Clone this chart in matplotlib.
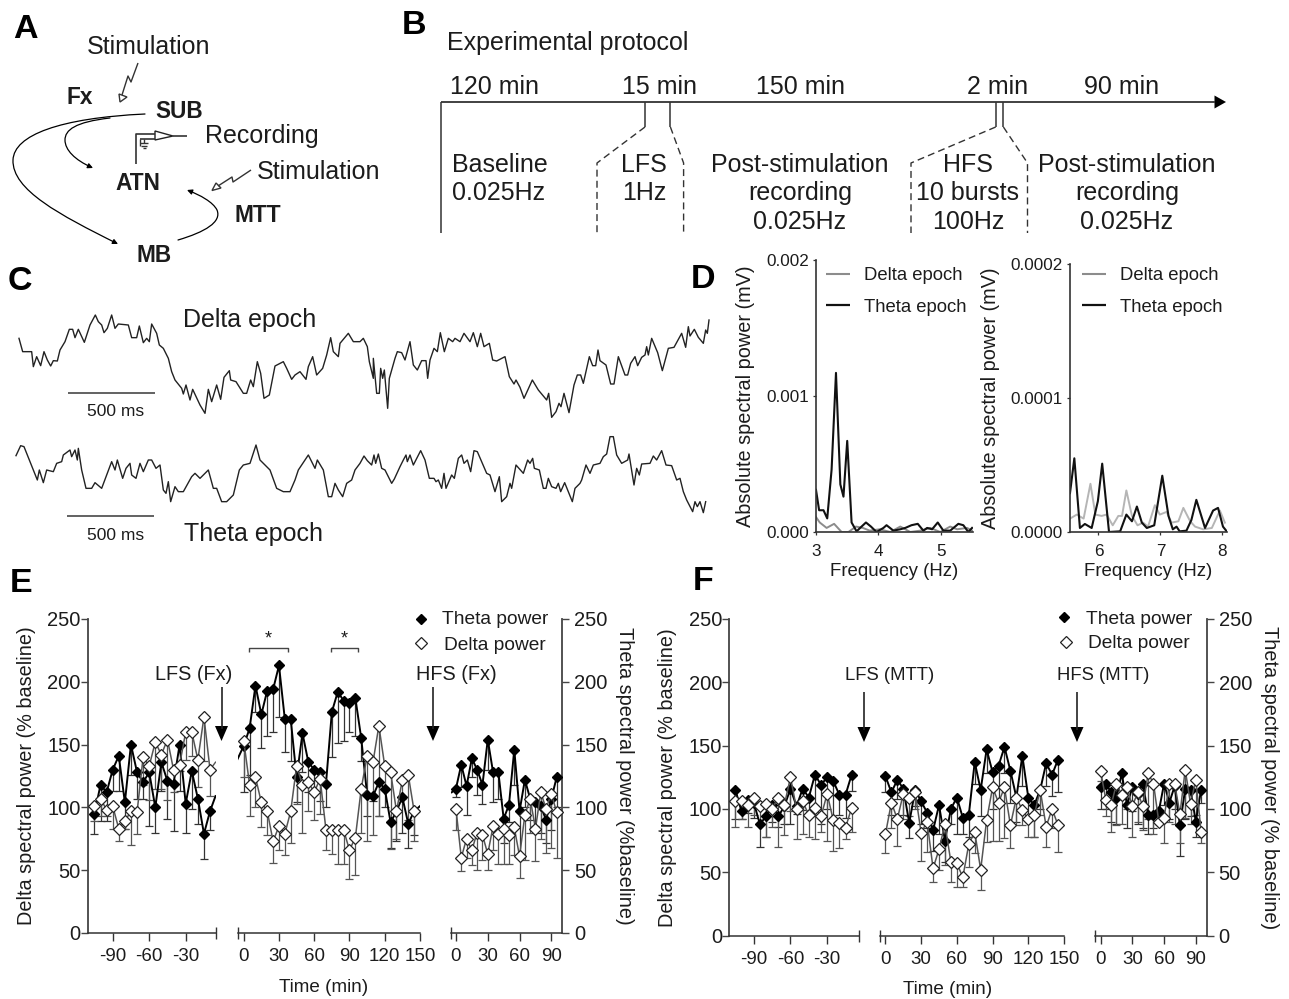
import matplotlib
matplotlib.use("Agg")
import matplotlib.pyplot as plt
from matplotlib.patches import FancyArrowPatch, Polygon
from matplotlib.path import Path

plt.rcParams['font.family'] = ['Liberation Sans', 'DejaVu Sans']
plt.rcParams['axes.unicode_minus'] = False

W, H = 1289, 999
INK = '#1c1c1c'
GREY = '#555555'

# panel E, pre-stimulation baseline
e1_t = [-105, -100, -95, -90, -85, -80, -75, -70, -65, -60, -55, -50, -45, -40, -35, -30, -25, -20, -15, -10]
e1_theta = [95, 118, 112, 130, 141, 104, 150, 128, 120, 128, 100, 136, 121, 119, 150, 103, 129, 107, 79, 97]
e1_theta_low = [79, 89, 89, 113, 113, 83, 126, 107, 107, 85, 80, 113, 91, 81, 113, 80, 99, 87, 59, 82]
e1_delta = [101, 107, 98, 101, 83, 89, 97, 96, 140, 133, 152, 142, 154, 130, 134, 160, 160, 138, 172, 130]
e1_delta_low = [89, 93, 93, 83, 73, 83, 70, 79, 118, 106, 115, 115, 106, 112, 129, 138, 141, 116, 137, 109]

# panel E, after LFS
e2_t = [0, 5, 10, 15, 20, 25, 30, 35, 40, 45, 50, 55, 60, 65, 70, 75, 80, 85, 90, 95, 100, 105, 110, 115, 120, 125, 130, 135, 140, 145]
e2_theta = [149, 163, 197, 174, 193, 194, 213, 170, 170, 124, 159, 136, 130, 128, 119, 176, 192, 185, 183, 187, 155, 110, 109, 120, 115, 88, 97, 108, 87, 97]
e2_theta_low = [112, 126, 176, 147, 157, 160, 172, 144, 137, 104, 128, 112, 113, 105, 100, 140, 151, 153, 160, 157, 137, 93, 105, 93, 100, 68, 73, 80, 68, 78]
e2_delta = [153, 118, 124, 104, 97, 73, 85, 79, 97, 133, 118, 120, 112, 123, 82, 82, 82, 82, 66, 76, 115, 141, 136, 165, 133, 128, 97, 122, 126, 97]
e2_delta_low = [124, 93, 100, 84, 78, 56, 66, 62, 72, 103, 80, 97, 90, 95, 66, 63, 55, 55, 43, 46, 80, 73, 78, 93, 115, 67, 75, 107, 90, 73]

# panel E, after HFS
e3_t = [0, 5, 10, 15, 20, 25, 30, 35, 40, 45, 50, 55, 60, 65, 70, 75, 80, 85, 90, 95]
e3_theta = [115, 134, 117, 139, 130, 118, 154, 128, 128, 91, 102, 146, 97, 122, 107, 104, 101, 90, 107, 124]
e3_theta_low = [108, 116, 94, 124, 110, 103, 130, 104, 107, 72, 88, 118, 60, 100, 90, 85, 80, 72, 82, 100]
e3_delta = [99, 60, 75, 66, 80, 78, 63, 85, 79, 83, 78, 84, 61, 94, 107, 83, 112, 99, 111, 96]
e3_delta_low = [82, 49, 60, 54, 50, 58, 50, 66, 55, 55, 55, 62, 44, 58, 80, 57, 75, 64, 68, 60]

# panel F, pre-stimulation baseline
f1_t = [-105, -100, -95, -90, -85, -80, -75, -70, -65, -60, -55, -50, -45, -40, -35, -30, -25, -20, -15, -10]
f1_theta = [115, 98, 107, 105, 88, 94, 103, 94, 102, 116, 102, 116, 109, 127, 119, 125, 122, 111, 111, 127]
f1_theta_low = [92, 92, 97, 93, 70, 78, 90, 86, 88, 88, 96, 99, 95, 102, 88, 100, 91, 95, 93, 114]
f1_delta = [106, 106, 103, 109, 102, 104, 100, 109, 103, 125, 100, 106, 95, 101, 94, 112, 91, 89, 85, 101]
f1_delta_low = [86, 92, 86, 95, 88, 78, 86, 70, 79, 98, 76, 80, 78, 76, 82, 75, 67, 69, 76, 82]

# panel F, after LFS
f2_t = [0, 5, 10, 15, 20, 25, 30, 35, 40, 45, 50, 55, 60, 65, 70, 75, 80, 85, 90, 95, 100, 105, 110, 115, 120, 125, 130, 135, 140, 145]
f2_theta = [126, 113, 123, 116, 89, 115, 106, 97, 83, 103, 75, 100, 109, 93, 95, 137, 115, 147, 129, 134, 149, 130, 109, 142, 109, 103, 115, 136, 127, 139]
f2_theta_low = [113, 95, 108, 95, 77, 102, 88, 85, 67, 80, 58, 88, 80, 80, 78, 120, 94, 128, 100, 105, 128, 105, 90, 118, 92, 78, 100, 118, 110, 113]
f2_delta = [80, 105, 92, 112, 109, 113, 81, 90, 53, 68, 88, 58, 57, 46, 72, 82, 52, 91, 117, 105, 117, 87, 109, 99, 92, 95, 115, 86, 100, 87]
f2_delta_low = [65, 85, 71, 92, 94, 100, 59, 66, 42, 52, 56, 42, 38, 38, 54, 65, 36, 74, 75, 75, 77, 69, 87, 87, 78, 78, 95, 70, 85, 66]

# panel F, after HFS
f3_t = [0, 5, 10, 15, 20, 25, 30, 35, 40, 45, 50, 55, 60, 65, 70, 75, 80, 85, 90, 95]
f3_theta = [117, 120, 113, 109, 128, 103, 117, 112, 120, 95, 95, 98, 120, 105, 118, 87, 116, 115, 90, 115]
f3_theta_low = [100, 100, 90, 88, 108, 85, 98, 88, 85, 80, 85, 88, 103, 92, 100, 63, 92, 94, 78, 105]
f3_delta = [130, 107, 103, 120, 111, 117, 102, 113, 102, 128, 120, 90, 93, 120, 120, 96, 131, 104, 123, 82]
f3_delta_low = [122, 94, 82, 87, 88, 100, 78, 90, 83, 92, 80, 88, 73, 90, 88, 73, 93, 88, 95, 73]

# panel D spectra
d1_theta_f = [3.0, 3.05, 3.12, 3.18, 3.25, 3.32, 3.39, 3.44, 3.50, 3.57, 3.65, 3.73, 3.80, 3.88, 3.97, 4.08, 4.13, 4.24, 4.35, 4.43, 4.53, 4.63, 4.72, 4.78, 4.86, 4.95, 5.04, 5.15, 5.28, 5.36, 5.44, 5.5]
d1_theta = [.00031, .00016, .00016, .0001, .00046, .00117, .00035, .00026, .00067, .00007, .000005, .00004, .00007, .00004, 0, .00003, .00005, .00001, .00002, .00003, .00005, .00006, .00001, .00003, .00002, .00007, .00001, .00001, .00006, .00005, 0, .00003]
d1_delta_f = [3.0, 3.06, 3.17, 3.29, 3.41, 3.52, 3.64, 3.75, 3.86, 4.02, 4.19, 4.35, 4.51, 4.67, 4.83, 4.99, 5.15, 5.26, 5.42, 5.5]
d1_delta = [.00011, .00007, .00003, .00006, 0, 0, .00004, .00003, .00001, .00002, 0, .00004, 0, .00001, .00003, 0, .00004, .00002, .00003, .00001]
d2_theta_f = [5.54, 5.61, 5.70, 5.78, 5.89, 5.99, 6.06, 6.17, 6.35, 6.45, 6.54, 6.62, 6.70, 6.78, 6.90, 7.03, 7.13, 7.20, 7.26, 7.31, 7.42, 7.50, 7.58, 7.72, 7.85, 7.93, 8.01, 8.07]
d2_theta = [2.9e-5, 5.5e-5, .3e-5, .6e-5, .3e-5, 2.3e-5, 5.1e-5, 0, .05e-5, 1.3e-5, .8e-5, 1.9e-5, .7e-5, .3e-5, .5e-5, 4.2e-5, 1.2e-5, .2e-5, .4e-5, .05e-5, .1e-5, .9e-5, 2.4e-5, .3e-5, 1.6e-5, 1.8e-5, .4e-5, .05e-5]
d2_delta_f = [5.54, 5.65, 5.76, 5.87, 5.95, 6.05, 6.13, 6.23, 6.32, 6.38, 6.45, 6.54, 6.63, 6.72, 6.80, 6.91, 6.99, 7.10, 7.18, 7.29, 7.37, 7.48, 7.56, 7.69, 7.83, 7.96, 8.04]
d2_delta = [1.0e-5, 1.3e-5, 1.0e-5, 3.6e-5, 1.3e-5, 1.2e-5, 1.3e-5, .5e-5, 1.2e-5, 1.2e-5, 3.1e-5, 1.2e-5, .5e-5, .7e-5, .4e-5, 2.0e-5, 1.3e-5, 1.5e-5, .7e-5, .8e-5, 1.8e-5, .8e-5, .4e-5, .2e-5, .3e-5, 1.6e-5, .7e-5]

# panel C traces, (sample, level)
delta_trace = [(57, 115), (68, 155), (95, 155), (100, 200), (110, 170), (122, 197), (132, 155), (142, 180), (152, 198), (160, 182), (172, 183), (180, 150), (195, 125), (208, 88), (218, 88), (225, 113), (235, 88), (253, 127), (270, 75), (286, 45), (295, 65), (305, 75), (312, 98), (322, 85), (335, 45), (345, 85), (355, 72), (385, 75), (395, 113), (410, 113), (418, 78), (430, 128), (440, 115), (448, 125), (455, 72), (470, 100), (478, 135), (490, 145), (505, 175), (515, 215), (525, 240), (545, 265), (550, 282), (558, 255), (570, 300), (578, 268), (600, 315), (615, 340), (625, 268), (635, 305), (650, 255), (662, 298), (672, 232), (688, 212), (692, 240), (708, 245), (730, 280), (740, 280), (752, 240), (760, 260), (772, 185), (782, 220), (792, 295), (808, 285), (825, 198), (850, 185), (860, 205), (875, 238), (885, 225), (900, 215), (918, 238), (925, 200), (938, 170), (950, 225), (968, 205), (980, 165), (992, 113), (1000, 155), (1015, 170), (1020, 130), (1045, 100), (1060, 125), (1080, 125), (1090, 115), (1102, 140), (1108, 185), (1120, 235), (1120, 175), (1130, 280), (1138, 280), (1142, 205), (1148, 235), (1153, 210), (1163, 325), (1168, 235), (1185, 175), (1192, 155), (1205, 158), (1215, 180), (1230, 125), (1240, 195), (1252, 210), (1265, 182), (1278, 182), (1283, 235), (1290, 180), (1302, 145), (1312, 155), (1321, 98), (1333, 155), (1345, 115), (1358, 125), (1365, 115), (1380, 125), (1392, 100), (1410, 125), (1420, 98), (1432, 140), (1442, 100), (1452, 140), (1468, 130), (1478, 180), (1490, 183), (1515, 170), (1528, 230), (1542, 252), (1548, 240), (1560, 262), (1572, 295), (1597, 240), (1615, 270), (1640, 300), (1646, 280), (1655, 352), (1668, 335), (1677, 310), (1683, 320), (1692, 280), (1707, 338), (1722, 255), (1732, 225), (1742, 225), (1750, 250), (1768, 170), (1778, 197), (1787, 197), (1794, 150), (1800, 182), (1818, 195), (1832, 252), (1842, 252), (1855, 170), (1875, 225), (1883, 225), (1892, 190), (1905, 170), (1913, 197), (1925, 172), (1935, 165), (1940, 140), (1945, 165), (1955, 115), (1973, 158), (1987, 212), (2005, 145), (2022, 142), (2045, 100), (2057, 142), (2065, 80), (2070, 108), (2083, 88), (2095, 112), (2110, 130), (2117, 90), (2122, 100), (2127, 60)]
theta_trace = [(48, 467), (62, 437), (72, 440), (95, 497), (100, 510), (112, 540), (118, 510), (130, 548), (140, 510), (160, 515), (170, 490), (185, 485), (190, 465), (210, 450), (215, 470), (225, 450), (232, 480), (235, 445), (245, 510), (258, 565), (275, 565), (285, 548), (305, 565), (320, 525), (335, 485), (345, 510), (352, 480), (368, 535), (378, 505), (390, 490), (395, 525), (408, 535), (420, 490), (430, 515), (445, 480), (455, 480), (468, 505), (480, 495), (490, 570), (498, 580), (505, 545), (512, 605), (525, 560), (535, 575), (550, 575), (575, 530), (585, 520), (600, 535), (625, 510), (640, 565), (650, 565), (665, 605), (680, 605), (700, 585), (718, 510), (730, 495), (750, 490), (768, 435), (780, 480), (790, 490), (810, 510), (830, 565), (850, 575), (870, 575), (885, 540), (895, 510), (925, 465), (945, 505), (952, 480), (970, 510), (985, 590), (995, 590), (1005, 550), (1015, 570), (1028, 590), (1040, 550), (1055, 540), (1065, 510), (1080, 490), (1092, 468), (1102, 482), (1115, 495), (1122, 465), (1127, 490), (1135, 462), (1145, 505), (1155, 510), (1175, 550), (1183, 537), (1200, 500), (1210, 480), (1218, 465), (1222, 485), (1230, 465), (1240, 495), (1262, 452), (1275, 480), (1288, 535), (1302, 535), (1308, 545), (1315, 540), (1325, 565), (1332, 520), (1338, 565), (1355, 525), (1363, 535), (1375, 475), (1385, 465), (1392, 490), (1402, 480), (1412, 515), (1422, 452), (1432, 455), (1460, 520), (1470, 525), (1485, 575), (1498, 530), (1505, 605), (1520, 590), (1530, 550), (1535, 565), (1548, 495), (1570, 520), (1583, 480), (1590, 490), (1598, 475), (1603, 505), (1618, 510), (1630, 565), (1638, 565), (1645, 535), (1655, 560), (1668, 565), (1675, 550), (1682, 575), (1694, 548), (1717, 605), (1725, 565), (1740, 550), (1745, 540), (1758, 495), (1770, 520), (1780, 495), (1800, 490), (1810, 470), (1820, 462), (1830, 410), (1840, 410), (1850, 465), (1865, 490), (1883, 480), (1887, 462), (1902, 555), (1910, 505), (1918, 525), (1925, 492), (1950, 490), (1960, 468), (1970, 480), (1985, 452), (1998, 495), (2015, 497), (2030, 540), (2040, 535), (2050, 575), (2060, 600), (2078, 635), (2085, 605), (2092, 620), (2100, 605), (2110, 638), (2117, 605)]


def px_axes(fig, left, top, right, bottom):
    return fig.add_axes([left / W, 1 - bottom / H, (right - left) / W, (bottom - top) / H])


def draw_segment(ax, t, theta, theta_low, delta, delta_low):
    th_err = [[a - b for a, b in zip(theta, theta_low)], [0] * len(t)]
    de_err = [[a - b for a, b in zip(delta, delta_low)], [0] * len(t)]
    ax.errorbar(t, theta, yerr=th_err, fmt='none', ecolor='#333333', elinewidth=0.9, capsize=3.2, capthick=0.9, zorder=2)
    ax.errorbar(t, delta, yerr=de_err, fmt='none', ecolor=GREY, elinewidth=0.9, capsize=3.2, capthick=0.9, zorder=3)
    ax.plot(t, theta, color='black', lw=1.4, marker='D', ms=4.8, mfc='black', mec='black', zorder=4, clip_on=False)
    ax.plot(t, delta, color=GREY, lw=1.1, marker='D', ms=5.8, mfc='white', mec='#222222', mew=0.9, zorder=5, clip_on=False)


def style_segment(ax, xlim, ticks, left=False, right=False):
    ax.set_xlim(xlim)
    ax.set_ylim(0, 250)
    ax.patch.set_alpha(0)
    for side in ['top', 'left', 'right']:
        ax.spines[side].set_visible(False)
    ax.spines['bottom'].set_color('#333333')
    ax.spines['bottom'].set_linewidth(1.1)
    ax.set_xticks(ticks)
    ax.tick_params(axis='x', length=5.5, width=1, color='#333333', labelsize=13.5, labelcolor=INK, pad=5.5)
    ends = []
    if not left:
        ends.append(xlim[0])
    if not right:
        ends.append(xlim[1])
    ax.set_xticks(ends, minor=True)
    ax.tick_params(axis='x', which='minor', direction='inout', length=9, width=1, color='#333333')
    if left or right:
        side = 'left' if left else 'right'
        ax.spines[side].set_visible(True)
        ax.spines[side].set_color('#444444')
        ax.spines[side].set_linewidth(1.3)
        ax.set_yticks([0, 50, 100, 150, 200, 250])
        ax.tick_params(axis='y', length=4.8, width=1, color='#444444', labelsize=14.5, labelcolor=INK,
                       pad=0.5 if left else 3.8, left=left, right=right, labelleft=left, labelright=right)
    else:
        ax.set_yticks([])


fig = plt.figure(figsize=(W / 100, H / 100), dpi=100)

# panel E axes
ax_e1 = px_axes(fig, 88, 619, 216, 933)
ax_e2 = px_axes(fig, 237.5, 619, 420, 933)
ax_e3 = px_axes(fig, 451.4, 619, 562.4, 933)
draw_segment(ax_e1, e1_t, e1_theta, e1_theta_low, e1_delta, e1_delta_low)
draw_segment(ax_e2, e2_t, e2_theta, e2_theta_low, e2_delta, e2_delta_low)
draw_segment(ax_e3, e3_t, e3_theta, e3_theta_low, e3_delta, e3_delta_low)
ax_e1.plot([-10, -5.5], [97, 109], color='black', lw=1.4, zorder=4)
ax_e1.plot([-10, -5.5], [130, 136], color=GREY, lw=1.0, zorder=3)
ax_e2.plot([-5.5, 0], [138, 149], color='black', lw=1.4, zorder=4)
ax_e2.plot([145, 150], [97, 101], color='black', lw=1.4, zorder=4)
ax_e3.plot([-4, 0], [112, 115], color='black', lw=1.4, zorder=4)
style_segment(ax_e1, (-110.3, -5.1), [-90, -60, -30], left=True)
style_segment(ax_e2, (-5.3, 150), [0, 30, 60, 90, 120, 150])
style_segment(ax_e3, (-4.3, 100.4), [0, 30, 60, 90], right=True)
ax_e1.set_ylabel('Delta spectral power (% baseline)', fontsize=14.3, color=INK)
ax_e1.yaxis.set_label_coords((36 - 88) / 128, 0.5)
ax_e3.yaxis.set_label_position('right')
ax_e3.set_ylabel('Theta spectral power (%baseline)', fontsize=14.3, color=INK, rotation=-90, va='center')
ax_e3.yaxis.set_label_coords((625 - 451.4) / 111, 0.5)

# panel F axes
ax_f1 = px_axes(fig, 729.3, 619, 858.6, 935.5)
ax_f2 = px_axes(fig, 879.6, 619, 1064, 935.5)
ax_f3 = px_axes(fig, 1095, 619, 1206.6, 935.5)
draw_segment(ax_f1, f1_t, f1_theta, f1_theta_low, f1_delta, f1_delta_low)
draw_segment(ax_f2, f2_t, f2_theta, f2_theta_low, f2_delta, f2_delta_low)
draw_segment(ax_f3, f3_t, f3_theta, f3_theta_low, f3_delta, f3_delta_low)
style_segment(ax_f1, (-110, -4.3), [-90, -60, -30], left=True)
style_segment(ax_f2, (-4.9, 150), [0, 30, 60, 90, 120, 150])
style_segment(ax_f3, (-5.3, 100.2), [0, 30, 60, 90], right=True)
ax_f1.set_ylabel('Delta spectral power (% baseline)', fontsize=14.3, color=INK)
ax_f1.yaxis.set_label_coords((677 - 729.3) / 129.3, 0.5)
ax_f3.yaxis.set_label_position('right')
ax_f3.set_ylabel('Theta spectral power (% baseline)', fontsize=14.3, color=INK, rotation=-90, va='center')
ax_f3.yaxis.set_label_coords((1270 - 1095) / 111.6, 0.5)

# panel D axes
ax_d1 = px_axes(fig, 816, 260, 972.7, 532)
ax_d1.plot(d1_delta_f, d1_delta, color='#8c8c8c', lw=1.4)
ax_d1.plot(d1_theta_f, d1_theta, color='#111111', lw=1.5)
ax_d1.set_xlim(3, 5.51)
ax_d1.set_ylim(0, 0.002)
ax_d1.set_yticks([0, 0.001, 0.002], ['0.000', '0.001', '0.002'])
ax_d1.set_xticks([3, 4, 5])
ax_d1.set_xlabel('Frequency (Hz)', fontsize=13.4, color=INK, labelpad=3)
ax_d1.set_ylabel('Absolute spectral power (mV)', fontsize=14.3, color=INK)
ax_d1.yaxis.set_label_coords((755 - 816) / 156.7, 0.5)

ax_d2 = px_axes(fig, 1070, 264, 1226.7, 532)
ax_d2.plot(d2_delta_f, d2_delta, color='#b5b5b5', lw=1.4)
ax_d2.plot(d2_theta_f, d2_theta, color='#111111', lw=1.5)
ax_d2.set_xlim(5.54, 8.07)
ax_d2.set_ylim(0, 0.0002)
ax_d2.set_yticks([0, 0.0001, 0.0002], ['0.0000', '0.0001', '0.0002'])
ax_d2.set_xticks([6, 7, 8])
ax_d2.set_xlabel('Frequency (Hz)', fontsize=13.4, color=INK, labelpad=3)
ax_d2.set_ylabel('Absolute spectral power (mV)', fontsize=14.3, color=INK)
ax_d2.yaxis.set_label_coords((1000 - 1070) / 156.7, 0.5)

for ax in [ax_d1, ax_d2]:
    ax.patch.set_alpha(0)
    ax.spines['top'].set_visible(False)
    ax.spines['right'].set_visible(False)
    ax.spines['left'].set_color('#333333')
    ax.spines['left'].set_linewidth(1.2)
    ax.spines['bottom'].set_color('#333333')
    ax.spines['bottom'].set_linewidth(1.2)
    ax.tick_params(axis='both', length=2.5, width=0.9, color='#333333', labelsize=12.3, labelcolor=INK, pad=2.5)
    ax.tick_params(axis='x', pad=6)

# panel C traces
ax_c = px_axes(fig, 0, 300, 720, 550)
ax_c.set_xlim(0, 2160)
ax_c.set_ylim(750, 0)
ax_c.axis('off')
ax_c.plot([p[0] for p in delta_trace], [p[1] for p in delta_trace], color='#222222', lw=1.0)
ax_c.plot([p[0] for p in theta_trace], [p[1] for p in theta_trace], color='#222222', lw=1.0)

# overlay for the drawn diagrams and free text, in picture pixels
ov = fig.add_axes([0, 0, 1, 1], zorder=20)
ov.set_xlim(0, W)
ov.set_ylim(H, 0)
ov.axis('off')


def txt(x, y, s, size=18, ha='left', weight='normal', **kw):
    ov.text(x, y + 2, s, fontsize=size, ha=ha, va='center', weight=weight, color=kw.pop('color', INK), **kw)


def line(xs, ys, lw=1.2, color='#333333', **kw):
    ov.plot(xs, ys, color=color, lw=lw, solid_capstyle='butt', **kw)


# panel letters
for letter, x, y in [('A', 25, 28), ('B', 414, 23), ('C', 20, 280), ('D', 703, 277), ('E', 21, 582), ('F', 703, 580)]:
    txt(x, y, letter, size=24.5, ha='center', weight='bold', color='black')

# panel A
txt(87, 45, 'Stimulation')
txt(205, 134, 'Recording')
txt(257, 170, 'Stimulation')
txt(67, 96, 'Fx', size=16.3, weight='bold')
txt(155, 109, 'SUB', size=16.3, weight='bold')
txt(115, 181, 'ATN', size=16.3, weight='bold')
txt(234, 213, 'MTT', size=16.3, weight='bold')
txt(136, 253, 'MB', size=16.3, weight='bold')

arcs = [
    [(145, 114), (60, 118), (14, 135), (13, 160), (12, 190), (60, 215), (118, 244)],
    [(110, 118), (75, 122), (65, 130), (65, 140), (65, 150), (75, 160), (93, 168)],
    [(178, 240), (205, 232), (222, 222), (217, 210), (213, 202), (200, 195), (187, 190)],
]
for pts in arcs:
    codes = [Path.MOVETO] + [Path.CURVE4] * 6
    ov.add_patch(FancyArrowPatch(path=Path(pts, codes), arrowstyle='-|>,head_length=3,head_width=1.5',
                                 color='black', lw=0.9, shrinkA=0, shrinkB=0))

# stimulation bolts with open heads
line([138, 131, 128, 122], [63, 82, 76, 95], lw=1.0)
ov.add_patch(Polygon([(120, 102), (119, 94), (127, 97)], closed=True, fc='white', ec='#333333', lw=1))
line([251, 233, 232, 218], [170, 182, 177, 186], lw=1.0)
ov.add_patch(Polygon([(212, 190.5), (216, 183), (221, 188)], closed=True, fc='white', ec='#333333', lw=1))

# recording amplifier
ov.add_patch(Polygon([(155, 131), (155, 140), (173, 136)], closed=True, fc='white', ec='#222222', lw=1))
line([173, 187], [136, 136])
line([155, 136, 136], [134, 134, 164])
line([140, 155], [139, 139])
line([140, 140], [139, 146], lw=1)
line([144, 144], [139, 143], lw=1)
line([140, 148], [143, 143], lw=1)
line([141, 147], [145.5, 145.5], lw=1)
line([142.5, 145.5], [148, 148], lw=1)

# panel B
txt(447, 41, 'Experimental protocol')
line([441, 1215], [102, 102], lw=1.3)
ov.add_patch(Polygon([(1214.5, 95.5), (1214.5, 108.5), (1226, 102)], closed=True, fc='black', ec='none'))
line([441, 441], [102, 233], lw=1.1)
for x in [645, 670.4, 995.7, 1003.4]:
    line([x, x], [102, 127], lw=1.1)
dash = dict(lw=1.0, ls=(0, (5, 3)))
ov.plot([645, 597, 597], [127, 163, 233], color='#333333', **dash)
ov.plot([670.4, 683.6, 683.6], [127, 163, 233], color='#333333', **dash)
ov.plot([995.7, 911, 911], [127, 163, 233], color='#333333', **dash)
ov.plot([1003.4, 1027.5, 1027.5], [127, 163, 233], color='#333333', **dash)
for s, x in [('120 min', 450), ('15 min', 622), ('150 min', 756), ('2 min', 967), ('90 min', 1084)]:
    txt(x, 85, s)
txt(452, 163, 'Baseline')
txt(452, 191, '0.025Hz')
txt(644, 163, 'LFS', ha='center')
txt(644, 191, '1Hz', ha='center')
for cx in [800, 1127]:
    txt(cx, 163, 'Post-stimulation', ha='center')
    txt(cx, 191, 'recording', ha='center')
    txt(cx, 220, '0.025Hz', ha='center')
txt(968, 163, 'HFS', ha='center')
txt(968, 191, '10 bursts', ha='center')
txt(968, 220, '100Hz', ha='center')

# panel C labels and scale bars
txt(183, 318, 'Delta epoch')
txt(184, 532, 'Theta epoch')
line([68, 155], [393, 393], color='#555555', lw=1.3)
line([67, 154], [516, 516], color='#555555', lw=1.3)
txt(116, 410, '500 ms', size=12.5, ha='center')
txt(116, 533, '500 ms', size=12.5, ha='center')

# panel D legends
line([826, 850], [274, 274], color='#8c8c8c', lw=1.5)
line([826, 850], [305, 305], color='#111111', lw=1.6)
txt(864, 274, 'Delta epoch', size=13.3)
txt(864, 305, 'Theta epoch', size=13.3)
line([1082, 1106], [274, 274], color='#8c8c8c', lw=1.5)
line([1082, 1106], [305, 305], color='#111111', lw=1.6)
txt(1120, 274, 'Delta epoch', size=13.3)
txt(1120, 305, 'Theta epoch', size=13.3)


def stim_arrow(x, top, tip):
    line([x, x], [top, tip - 12], lw=1.2, color='#222222')
    ov.add_patch(Polygon([(x - 6.5, tip - 15), (x + 6.5, tip - 15), (x, tip)], closed=True, fc='black', ec='none'))


# panels E and F annotations
ov.plot([421], [619], 'D', ms=4.8, color='black')
ov.plot([421], [643], 'D', ms=5.8, mfc='white', mec='#222222', mew=0.9)
txt(442, 617, 'Theta power', size=13.8)
txt(444, 643, 'Delta power', size=13.8)
txt(194, 672, 'LFS (Fx)', size=14.3, ha='center')
txt(456, 673, 'HFS (Fx)', size=14.3, ha='center')
stim_arrow(221.5, 687, 741)
stim_arrow(433, 687, 741)
line([249, 249, 288, 288], [652, 648, 648, 652], lw=1.0, color='#444444')
line([331, 331, 358, 358], [652, 648, 648, 652], lw=1.0, color='#444444')
txt(268, 637, '*', size=13, ha='center')
txt(344, 637, '*', size=13, ha='center')
txt(324, 985, 'Time (min)', size=13.6, ha='center')

ov.plot([1064], [617], 'D', ms=4.8, color='black')
ov.plot([1066], [642], 'D', ms=5.8, mfc='white', mec='#222222', mew=0.9)
txt(1086, 617, 'Theta power', size=13.8)
txt(1088, 642, 'Delta power', size=13.8)
txt(890, 673, 'LFS (MTT)', size=13.3, ha='center')
txt(1103, 673, 'HFS (MTT)', size=13.3, ha='center')
stim_arrow(864, 692, 742)
stim_arrow(1077, 692, 742)
txt(948, 987, 'Time (min)', size=13.6, ha='center')

fig.savefig('out.png', dpi=100)
